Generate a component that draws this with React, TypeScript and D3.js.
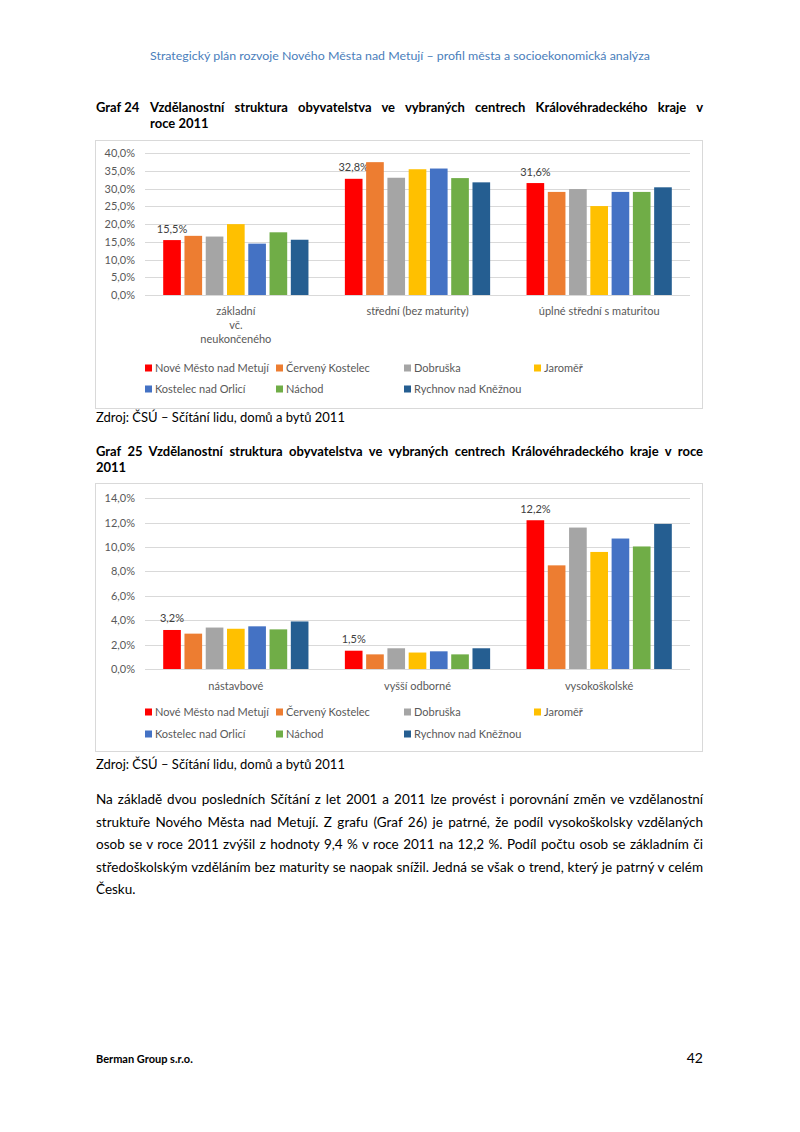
import React, { useEffect, useRef } from "react";
import * as d3 from "d3";

const seriesNames = [
  "Nové Město nad Metují",
  "Červený Kostelec",
  "Dobruška",
  "Jaroměř",
  "Kostelec nad Orlicí",
  "Náchod",
  "Rychnov nad Kněžnou",
];
const seriesColors = ["#ff0000", "#ed7d31", "#a5a5a5", "#ffc000", "#4472c4", "#70ad47", "#255e91"];

const categories1 = ["základní vč. neukončeného", "střední (bez maturity)", "úplné střední s maturitou"];
const categoryLines1 = [["základní", "vč.", "neukončeného"], ["střední (bez maturity)"], ["úplné střední s maturitou"]];
const values1 = [
  [15.5, 32.8, 31.6],
  [16.7, 37.5, 29.1],
  [16.5, 33.1, 29.9],
  [20.0, 35.5, 25.1],
  [14.5, 35.7, 29.1],
  [17.7, 33.0, 29.1],
  [15.6, 31.8, 30.4],
];
const ticks1 = [0, 5, 10, 15, 20, 25, 30, 35, 40];

const categories2 = ["nástavbové", "vyšší odborné", "vysokoškolské"];
const categoryLines2 = [["nástavbové"], ["vyšší odborné"], ["vysokoškolské"]];
const values2 = [
  [3.2, 1.5, 12.2],
  [2.9, 1.2, 8.5],
  [3.4, 1.7, 11.6],
  [3.3, 1.35, 9.6],
  [3.5, 1.45, 10.7],
  [3.25, 1.2, 10.05],
  [3.9, 1.7, 11.9],
];
const ticks2 = [0, 2, 4, 6, 8, 10, 12, 14];

const headerText = "Strategický plán rozvoje Nového Města nad Metují – profil města a socioekonomická analýza";
const title1Label = "Graf 24";
const title1Lines = [
  "Vzdělanostní struktura obyvatelstva ve vybraných centrech Královéhradeckého kraje v",
  "roce 2011",
];
const title2Lines = [
  "Graf 25 Vzdělanostní struktura obyvatelstva ve vybraných centrech Královéhradeckého kraje v roce",
  "2011",
];
const sourceText = "Zdroj: ČSÚ – Sčítání lidu, domů a bytů 2011";
const paragraphLines = [
  "Na základě dvou posledních Sčítání z let 2001 a 2011 lze provést i porovnání změn ve vzdělanostní",
  "struktuře Nového Města nad Metují. Z grafu (Graf 26) je patrné, že podíl vysokoškolsky vzdělaných",
  "osob se v roce 2011 zvýšil z hodnoty 9,4 % v roce 2011 na 12,2 %. Podíl počtu osob se základním či",
  "středoškolským vzděláním bez maturity se naopak snížil. Jedná se však o trend, který je patrný v celém",
  "Česku.",
];
const footerLeft = "Berman Group s.r.o.";
const footerRight = "42";

const FONT = "Lato, 'Open Sans', sans-serif";
const fmtPct = (v: number) => d3.format(".1f")(v).replace(".", ",") + "%";

function justified(parent: any, text: string, x: number, y: number, width: number, size: number, weight = "normal", fill = "#000") {
  const t = parent
    .append("text")
    .attr("x", x)
    .attr("y", y)
    .attr("font-family", FONT)
    .attr("font-size", size)
    .attr("font-weight", weight)
    .attr("fill", fill)
    .text(text);
  const w = (t.node() as SVGTextElement).getComputedTextLength();
  const n = (text.match(/ /g) || []).length;
  if (n > 0) t.attr("word-spacing", (width - w) / n);
  return t;
}

function plain(parent: any, text: string, x: number, y: number, size: number, opts: any = {}) {
  return parent
    .append("text")
    .attr("x", x)
    .attr("y", y)
    .attr("font-family", FONT)
    .attr("font-size", size)
    .attr("font-weight", opts.weight || "normal")
    .attr("fill", opts.fill || "#000")
    .attr("text-anchor", opts.anchor || "start")
    .text(text);
}

function drawChart(svg: any, cfg: any) {
  const { boxTop, boxBottom, y0, y1, ticks, values, categories, catLines, catY, legY } = cfg;
  const g = svg.append("g");
  g.append("rect")
    .attr("x", 95.5)
    .attr("y", boxTop + 0.5)
    .attr("width", 607)
    .attr("height", boxBottom - boxTop)
    .attr("fill", "#fff")
    .attr("stroke", "#d9d9d9");

  const x0 = d3.scaleBand<string>().domain(categories).range([145, 690]);
  const x1 = d3
    .scaleBand<string>()
    .domain(seriesNames)
    .range([18.2, x0.bandwidth() - 18.2])
    .paddingInner(0.17);
  const y = d3.scaleLinear().domain([0, ticks[ticks.length - 1]]).range([y0, y1]);

  ticks.forEach((t: number) => {
    g.append("line")
      .attr("x1", 145)
      .attr("x2", 690)
      .attr("y1", Math.round(y(t)) + 0.5)
      .attr("y2", Math.round(y(t)) + 0.5)
      .attr("stroke", "#d9d9d9")
      .attr("stroke-width", 1);
    plain(g, fmtPct(t), 135, y(t) + 4, 11, { anchor: "end", fill: "#595959" });
  });

  seriesNames.forEach((s, si) => {
    categories.forEach((c: string, ci: number) => {
      const v = values[si][ci];
      g.append("rect")
        .attr("x", (x0(c) as number) + (x1(s) as number))
        .attr("y", y(v))
        .attr("width", x1.bandwidth())
        .attr("height", y(0) - y(v))
        .attr("fill", seriesColors[si]);
      if (si === 0) {
        plain(g, fmtPct(v), (x0(c) as number) + (x1(s) as number) + x1.bandwidth() / 2, y(v) - 7.5, 11, {
          anchor: "middle",
          fill: "#404040",
        });
      }
    });
  });

  categories.forEach((c: string, ci: number) => {
    catLines[ci].forEach((line: string, li: number) => {
      plain(g, line, (x0(c) as number) + x0.bandwidth() / 2, catY + li * 14, 11, { anchor: "middle", fill: "#595959" });
    });
  });

  const legCols = [145, 276, 404, 534];
  seriesNames.forEach((s, i) => {
    const row = i < 4 ? 0 : 1;
    const col = i < 4 ? i : i - 4;
    const lx = legCols[col];
    const ly = legY[row];
    g.append("rect").attr("x", lx).attr("y", ly - 3.5).attr("width", 7).attr("height", 7).attr("fill", seriesColors[i]);
    plain(g, s, lx + 10, ly + 4, 11, { fill: "#595959" });
  });
}

export default function App() {
  const ref = useRef<SVGSVGElement>(null);
  useEffect(() => {
    const svg = d3.select(ref.current);
    svg.selectAll("*").remove();
    svg.append("rect").attr("width", 800).attr("height", 1132).attr("fill", "#fff");

    plain(svg, headerText, 400, 60, 12, { anchor: "middle", fill: "#4a7ebb" }).attr("textLength", 500).attr("lengthAdjust", "spacingAndGlyphs");

    plain(svg, title1Label, 96, 112, 13, { weight: "bold" });
    justified(svg, title1Lines[0], 150, 112, 553, 13, "bold");
    plain(svg, title1Lines[1], 150, 128, 13, { weight: "bold" });

    drawChart(svg, {
      boxTop: 140,
      boxBottom: 408,
      y0: 295,
      y1: 153.3,
      ticks: ticks1,
      values: values1,
      categories: categories1,
      catLines: categoryLines1,
      catY: 315,
      legY: [368, 389],
    });
    plain(svg, sourceText, 96, 422, 13);

    justified(svg, title2Lines[0], 96, 456, 607, 13, "bold");
    plain(svg, title2Lines[1], 96, 472, 13, { weight: "bold" });

    drawChart(svg, {
      boxTop: 483,
      boxBottom: 751,
      y0: 669,
      y1: 498.3,
      ticks: ticks2,
      values: values2,
      categories: categories2,
      catLines: categoryLines2,
      catY: 690,
      legY: [712, 734],
    });
    plain(svg, sourceText, 96, 769, 13);

    paragraphLines.forEach((line, i) => {
      const yy = 804 + i * 22.5;
      if (i < paragraphLines.length - 1) justified(svg, line, 96, yy, 607, 13.5);
      else plain(svg, line, 96, yy, 13.5);
    });

    plain(svg, footerLeft, 96, 1063, 11, { weight: "bold" });
    plain(svg, footerRight, 703, 1063, 14, { anchor: "end" });
  }, []);

  return (
    <div style={{ position: "absolute", left: 0, top: 0 }}>
      <svg ref={ref} width={800} height={1132} style={{ display: "block" }} />
    </div>
  );
}
